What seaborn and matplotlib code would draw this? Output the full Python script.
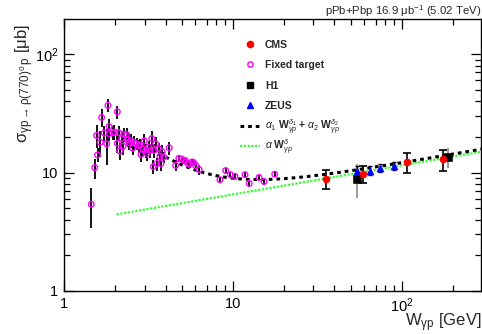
import numpy as np
import pandas as pd
import matplotlib
matplotlib.use("Agg")
import matplotlib.pyplot as plt
import matplotlib.ticker as mticker
from matplotlib.lines import Line2D
import seaborn as sns

# ---------------- data ----------------
ft_w = [1.45, 1.52, 1.56, 1.58, 1.64, 1.67, 1.73, 1.79, 1.82, 1.85, 1.85, 1.94, 1.99,
        2.07, 2.11, 2.07, 2.14, 2.20, 2.24, 2.27, 2.35, 2.38, 2.42, 2.49, 2.55, 2.60,
        2.69, 2.77, 2.82, 2.86, 2.92, 2.99, 3.06, 3.11, 3.17, 3.23, 3.31, 3.38, 3.42,
        3.49, 3.54, 3.63, 3.70, 3.75, 3.82, 3.90, 4.20, 4.58, 4.79, 4.97, 5.12, 5.25,
        5.40, 5.55, 5.75, 5.87, 6.02, 6.32, 8.39, 9.07, 9.68, 10.3, 11.8, 12.5, 14.3,
        15.3, 17.7]
ft_sig = [5.4, 11.0, 20.6, 14.1, 18.0, 29.2, 21.6, 17.5, 36.9, 24.5, 21.3, 21.7, 22.0,
          32.6, 21.7, 17.7, 15.2, 19.4, 16.7, 21.0, 20.9, 18.9, 17.9, 18.7, 16.1, 18.0,
          17.5, 16.7, 17.2, 14.2, 15.9, 18.5, 15.4, 14.5, 16.4, 15.4, 19.4, 11.2, 15.4,
          17.5, 11.9, 15.9, 13.7, 11.9, 15.0, 13.5, 16.2, 11.5, 13.2, 13.0, 12.7, 12.6,
          11.9, 11.8, 12.3, 12.1, 11.5, 10.6, 8.7, 10.4, 9.6, 9.3, 9.6, 8.1, 9.1,
          8.4, 9.7]
ft_err = [2.0, 2.1, 4.5, 1.9, 4.4, 5.0, 3.0, 6.0, 4.5, 4.0, 3.0, 3.0, 3.0,
          4.0, 3.0, 3.0, 2.5, 3.0, 2.5, 3.0, 3.0, 2.5, 2.5, 2.5, 2.0, 2.5,
          2.0, 2.0, 2.0, 2.0, 2.0, 2.5, 2.0, 2.0, 2.0, 2.0, 3.0, 1.5, 2.0,
          2.5, 1.5, 2.0, 2.0, 1.5, 2.0, 1.5, 2.0, 1.2, 1.0, 0.8, 0.8, 0.8,
          0.8, 0.8, 0.8, 0.8, 0.8, 1.0, 0.5, 0.6, 0.5, 0.5, 0.6, 0.6, 0.5,
          0.5, 0.6]

cms_w = [35.5, 59.0, 107.5, 175.5]
cms_sig = [8.9, 9.8, 12.3, 12.9]
cms_err = [1.6, 1.6, 2.3, 2.6]

h1_w = [54.7, 188.0]
h1_sig = [8.9, 13.5]
h1_err = [2.8, 2.6]

zeus_w = [54.7, 64.7, 74.8, 89.7]
zeus_sig = [10.4, 10.4, 11.0, 11.4]
zeus_err = [1.0, 0.9, 0.9, 0.9]

# fit parameters
a1, d1, a2, d2 = 3.9, 0.245, 62.0, -1.47
a, d = 3.72, 0.245

title_txt = r"pPb+Pbp 16.9 $\mathrm{\mu b^{-1}}$ (5.02 TeV)"
legend_labels = ["CMS", "Fixed target", "H1", "ZEUS",
                 r"$\alpha_{1}\ \mathbf{W}_{\gamma p}^{\delta_{1}}$ + $\alpha_{2}\ \mathbf{W}_{\gamma p}^{\delta_{2}}$",
                 r"$\alpha\ \mathbf{W}_{\gamma p}^{\delta}$"]

# ---------------- style ----------------
sns.set_style("ticks")
plt.rcParams['font.family'] = ['Liberation Sans', 'DejaVu Sans']
plt.rcParams['mathtext.fontset'] = 'custom'
plt.rcParams['mathtext.rm'] = 'Liberation Sans'
plt.rcParams['mathtext.it'] = 'Liberation Sans:italic'
plt.rcParams['mathtext.bf'] = 'Liberation Sans:bold'

fig = plt.figure(figsize=(4.82, 3.34), dpi=100)
ax = fig.add_axes([64/482, 43/334, 417/482, 272/334])

ft = pd.DataFrame({"W": ft_w, "sigma": ft_sig, "err": ft_err})
cms = pd.DataFrame({"W": cms_w, "sigma": cms_sig, "err": cms_err})
h1 = pd.DataFrame({"W": h1_w, "sigma": h1_sig, "err": h1_err})
zeus = pd.DataFrame({"W": zeus_w, "sigma": zeus_sig, "err": zeus_err})

green_ls = dict(color='#33ff33', lw=1.6, ls=(0, (1, 0.7)))
black_ls = dict(color='black', lw=2.2, ls=(0, (1.2, 1.3)))

# curves
wg = np.logspace(np.log10(2.05), np.log10(300), 200)
ax.plot(wg, a * wg**d, zorder=2, **green_ls)
wb = np.logspace(np.log10(4.0), np.log10(300), 200)
ax.plot(wb, a1 * wb**d1 + a2 * wb**d2, zorder=2, **black_ls)

# fixed target
ax.errorbar(ft.W, ft.sigma, yerr=ft.err, fmt='none', ecolor='black', elinewidth=1.3, zorder=3)
sns.scatterplot(data=ft, x="W", y="sigma", ax=ax, marker='o', s=16, facecolors='none',
                edgecolor='#ff00ff', linewidth=1.0, zorder=4, legend=False)
# H1
ax.errorbar(h1.W, h1.sigma, yerr=h1.err, fmt='none', ecolor='#888888', elinewidth=1.2, zorder=3)
sns.scatterplot(data=h1, x="W", y="sigma", ax=ax, marker='s', s=28, color='black',
                edgecolor='black', zorder=5, legend=False)
# ZEUS
ax.errorbar(zeus.W, zeus.sigma, yerr=zeus.err, fmt='none', ecolor='black', elinewidth=1.0,
            capsize=1.5, zorder=3)
sns.scatterplot(data=zeus, x="W", y="sigma", ax=ax, marker='^', s=26, color='blue',
                edgecolor='blue', zorder=5, legend=False)
# CMS
ax.errorbar(cms.W, cms.sigma, yerr=cms.err, fmt='none', ecolor='black', elinewidth=1.2,
            capsize=2.8, capthick=1.2, zorder=3)
sns.scatterplot(data=cms, x="W", y="sigma", ax=ax, marker='o', s=26, color='red',
                edgecolor='red', zorder=6, legend=False)

# axes
ax.set_xscale('log')
ax.set_yscale('log')
ax.set_xlim(1, 295)
ax.set_ylim(1, 198)

def fmt(v, pos):
    if abs(v - 1) < 1e-9:
        return "1"
    if abs(v - 10) < 1e-9:
        return "10"
    e = int(round(np.log10(v)))
    return r"$\mathregular{10^{%d}}$" % e

for axis in (ax.xaxis, ax.yaxis):
    axis.set_major_locator(mticker.LogLocator(base=10, numticks=10))
    axis.set_minor_locator(mticker.LogLocator(base=10, subs=np.arange(2, 10), numticks=20))
    axis.set_major_formatter(mticker.FuncFormatter(fmt))
    axis.set_minor_formatter(mticker.NullFormatter())

ax.tick_params(which='both', direction='in', top=True, right=True, width=0.9, colors='black',
               labelsize=10.5)
ax.tick_params(which='major', length=7.5, pad=4)
ax.tick_params(which='minor', length=4)
for sp in ax.spines.values():
    sp.set_linewidth(1.0)
    sp.set_color('black')

ax.set_xlabel(r"$\mathrm{W_{\gamma p}}$ [GeV]", fontsize=12, loc='right')
ax.xaxis.set_label_coords(1.0, -20/272)
ax.set_ylabel(r"$\mathrm{\sigma_{\gamma p \rightarrow \rho(770)^{0}\, p}}$ [$\mathrm{\mu}$b]",
              fontsize=12, loc='top')
ax.yaxis.set_label_coords(-28/417, 1.0 - 5/272)

fig.text(481/482, 1 - 11/334, title_txt, ha='right', va='center', fontsize=8.2)

# legend (one row per entry, at fixed vertical positions)
handles = [
    Line2D([], [], ls='none', marker='o', color='red', markersize=4.5),
    Line2D([], [], ls='none', marker='o', markerfacecolor='none', markeredgecolor='#ff00ff',
           markersize=3.8, markeredgewidth=1.0),
    Line2D([], [], ls='none', marker='s', color='black', markersize=4.5),
    Line2D([], [], ls='none', marker='^', color='blue', markersize=4.5),
    Line2D([], [], **black_ls),
    Line2D([], [], **green_ls),
]
row_y = [45, 65, 86, 106, 127, 147]
for i, (h, lab, yy) in enumerate(zip(handles, legend_labels, row_y)):
    leg = ax.legend([h], [lab], loc='center left', bbox_to_anchor=(240/482, 1 - yy/334),
                    bbox_transform=fig.transFigure, frameon=False,
                    prop={'weight': 'bold', 'size': 7.5},
                    handlelength=1.9, handletextpad=0.5, borderpad=0, borderaxespad=0)
    if i < len(handles) - 1:
        ax.add_artist(leg)

fig.savefig("out.png", dpi=100)
